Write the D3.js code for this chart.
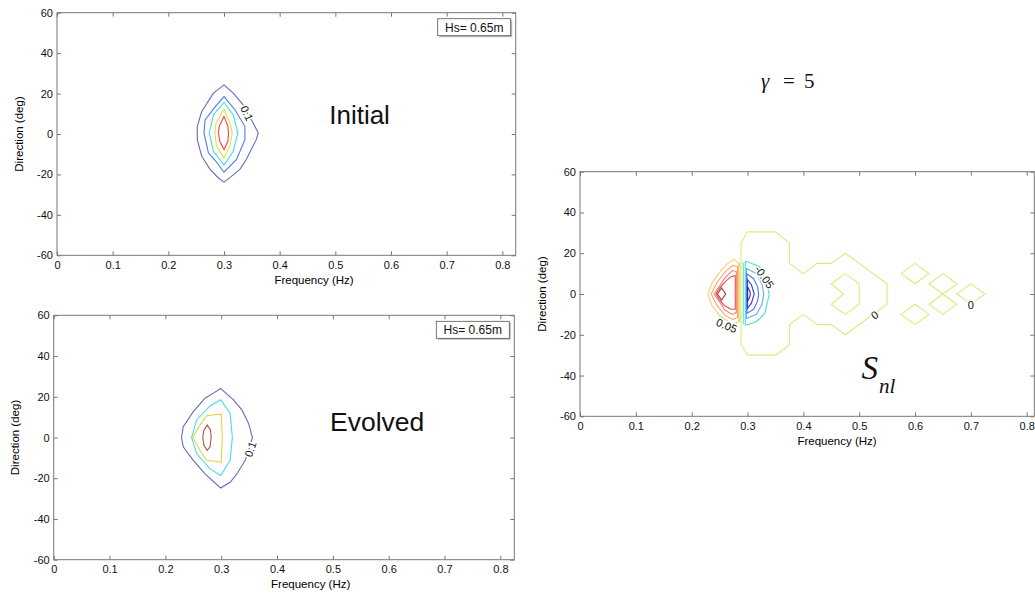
<!DOCTYPE html>
<html>
<head>
<meta charset="utf-8">
<script src="https://cdn.jsdelivr.net/npm/d3@7"></script>
<style>
body { margin: 0; background: #fff; }
text { font-family: "Liberation Sans", Arimo, Arial, Helvetica, sans-serif; }
.serif, .serif tspan { font-family: "Liberation Serif", "DejaVu Serif", "Times New Roman", Times, serif; }
</style>
</head>
<body>
<script>
// tick values / labels shared by the three panels
var xTicks = [0, 0.1, 0.2, 0.3, 0.4, 0.5, 0.6, 0.7, 0.8];
var xTickLabels = ["0", "0.1", "0.2", "0.3", "0.4", "0.5", "0.6", "0.7", "0.8"];
var yTicks = [-60, -40, -20, 0, 20, 40, 60];
var yTickLabels = ["-60", "-40", "-20", "0", "20", "40", "60"];

// contour lines, [frequency Hz, direction deg]
// initial spectrum (outer -> inner)
var init1 = [[0.3,24.3],[0.3166,20.2],[0.3345,14.4],[0.3435,9.5],[0.3525,5.4],[0.3615,0.5],[0.358,-2.8],[0.349,-7.7],[0.34,-12.6],[0.3285,-17.5],[0.3106,-21.6],[0.3,-23.8],[0.289,-21.5],[0.275,-17.5],[0.26,-11],[0.252,-2.8],[0.252,3.8],[0.26,11.1],[0.281,20.2]];
var init2 = [[0.3,18.5],[0.3196,12],[0.3375,3.8],[0.3375,-2.8],[0.3226,-12.6],[0.3,-18.9],[0.284,-13],[0.272,-9.3],[0.264,0.5],[0.266,7],[0.283,13]];
var init3 = [[0.3,15.6],[0.3166,9.5],[0.325,0.5],[0.3166,-8.5],[0.3,-15.4],[0.281,-8.5],[0.2735,0.5],[0.281,9.5]];
var init4 = [[0.3,12.3],[0.3106,5.4],[0.3148,0.5],[0.3106,-6],[0.3,-11.8],[0.2866,-6],[0.2837,0.5],[0.2855,5.4]];
var init5 = [[0.3,8.7],[0.307,3.8],[0.308,0.5],[0.307,-3.6],[0.3,-7.7],[0.2925,-3.6],[0.29,0.5],[0.2914,3.8]];

// evolved spectrum
var evo1 = [[0.299,24.1],[0.322,18.5],[0.337,13.6],[0.349,6.9],[0.356,0],[0.351,-4.6],[0.343,-11.2],[0.328,-17.9],[0.316,-22],[0.299,-24.8],[0.271,-17.9],[0.25,-11.2],[0.232,-4.6],[0.229,0],[0.232,5.3],[0.25,12.7],[0.271,19.3],[0.286,21.8]];
var evo2 = [[0.299,18.5],[0.316,11.9],[0.32,0],[0.316,-11.2],[0.299,-18.7],[0.28,-15.4],[0.256,-7.9],[0.247,0],[0.256,8.6],[0.28,15.5]];
var evo3 = [[0.274,10.7],[0.3,11.6],[0.302,0],[0.3,-12.1],[0.274,-11.2],[0.262,-6.3],[0.249,0],[0.262,6.1]];
var evo4 = [[0.275,6.1],[0.281,3.6],[0.282,0],[0.28,-4.6],[0.275,-6.3],[0.269,-3.8],[0.267,0],[0.269,3.6]];

// Snl : zero level
var snlZero1 = [[0.2885,25],[0.3,30.5],[0.35,30.5],[0.375,25],[0.375,15],[0.4,10],[0.425,15],[0.45,15],[0.475,20],[0.55,5],[0.55,-5],[0.475,-20],[0.45,-15],[0.425,-15],[0.4,-10],[0.375,-15],[0.375,-25],[0.35,-30],[0.3,-30],[0.2885,-24.5]];
var snlZero2 = [[0.45,5],[0.475,10],[0.5,5],[0.5,-5],[0.475,-10],[0.45,-5],[0.472,0]];
var snlZero3 = [[0.575,10],[0.6,15],[0.625,10],[0.6,5]];
var snlZero4 = [[0.575,-10],[0.6,-5],[0.625,-10],[0.6,-15]];
var snlZero5 = [[0.625,5],[0.65,10],[0.675,5],[0.65,0]];
var snlZero6 = [[0.625,-5],[0.65,0],[0.675,-5],[0.65,-10]];
var snlZero7 = [[0.675,0],[0.7,5],[0.725,0],[0.7,-5]];
// Snl : positive lobe
var snlPos1 = [[0.284,15],[0.276,17],[0.262,14.5],[0.248,10],[0.236,5],[0.229,0],[0.236,-5.5],[0.25,-10.5],[0.265,-13.5],[0.278,-15],[0.284,-13]];
var snlPos2 = [[0.282,13.5],[0.274,14],[0.26,11],[0.245,5.5],[0.235,0],[0.245,-5.5],[0.26,-10.5],[0.274,-12.5],[0.282,-11.5]];
var snlPos3 = [[0.28,11],[0.273,11.5],[0.26,8],[0.249,3.5],[0.24,0],[0.249,-3.5],[0.26,-8],[0.273,-10],[0.28,-9]];
var snlPos4 = [[0.278,9],[0.27,8.5],[0.258,5.5],[0.249,2.5],[0.2435,0],[0.249,-2.5],[0.258,-5.5],[0.27,-7.5],[0.278,-7.5]];
var snlPos5 = [[0.246,0],[0.2535,3],[0.261,0],[0.2535,-3]];
var snlPos6 = [[0.2862,15.5],[0.2862,-14]];
// Snl : negative lobe
var snlNeg0 = [[0.2925,15.5],[0.2925,-15]];
var snlNeg1 = [[0.296,15.9],[0.2985,15.9],[0.322,13.4],[0.331,7.7],[0.339,0],[0.331,-9.5],[0.316,-13.6],[0.2985,-15.2],[0.296,-15.2]];
var snlNeg2 = [[0.298,12.5],[0.316,10],[0.326,5],[0.329,0],[0.326,-5],[0.316,-10],[0.298,-12]];
var snlNeg3 = [[0.299,10],[0.311,7.5],[0.318,3.5],[0.32,0],[0.318,-3.5],[0.311,-7.5],[0.299,-9.5]];
var snlNeg4 = [[0.3,7],[0.307,4.5],[0.312,0],[0.307,-4.5],[0.3,-7]];
var snlNeg5 = [[0.3,3.5],[0.304,1.5],[0.305,0],[0.304,-1.5],[0.3,-3.5]];

var svg = d3.select("body")
    .append("svg")
    .attr("width", 1035)
    .attr("height", 593);

// slight softening so the thin lines look like the scanned original
svg.append("defs").append("filter").attr("id", "soft")
    .append("feGaussianBlur").attr("stdDeviation", 0.35);

function panel(left, top, w, h, xMax) {
    var g = svg.append("g").attr("transform", "translate(" + left + "," + top + ")");
    var x = d3.scaleLinear().domain([0, xMax]).range([0, w]),
        y = d3.scaleLinear().domain([-60, 60]).range([h, 0]);

    var ax = [
        g.append("g").attr("transform", "translate(0," + h + ")")
            .call(d3.axisBottom(x).tickValues(xTicks).tickSize(-4).tickPadding(6)
                .tickFormat(function (d, i) { return xTickLabels[i]; })),
        g.append("g")
            .call(d3.axisLeft(y).tickValues(yTicks).tickSize(-4).tickPadding(4)
                .tickFormat(function (d, i) { return yTickLabels[i]; })),
        g.append("g")
            .call(d3.axisTop(x).tickValues(xTicks).tickSize(-4).tickFormat("")),
        g.append("g").attr("transform", "translate(" + w + ",0)")
            .call(d3.axisRight(y).tickValues(yTicks).tickSize(-4).tickFormat(""))
    ];
    ax.forEach(function (a) {
        a.attr("font-family", null);
        a.select(".domain").remove();
        a.selectAll("line").attr("stroke", "#777");
        a.selectAll("text").attr("fill", "#111").style("font-size", "11px");
    });

    g.append("rect")
        .attr("width", w).attr("height", h)
        .attr("fill", "none").attr("stroke", "#777").attr("stroke-width", 1);

    g.append("text")
        .attr("x", 257).attr("y", h + 28.5)
        .attr("text-anchor", "middle")
        .style("font-size", "11.5px")
        .text("Frequency (Hz)");

    g.append("text")
        .attr("transform", "translate(-34.5," + (h / 2) + ") rotate(-90)")
        .attr("text-anchor", "middle")
        .style("font-size", "11.5px")
        .text("Direction (deg)");

    var lines = g.append("g").attr("filter", "url(#soft)");
    return { g: g, lines: lines, x: x, y: y, w: w, h: h };
}

function contour(p, pts, color, open) {
    var line = d3.line()
        .x(function (d) { return p.x(d[0]); })
        .y(function (d) { return p.y(d[1]); })
        .curve(open ? d3.curveLinear : d3.curveLinearClosed);
    p.lines.append("path")
        .datum(pts)
        .attr("fill", "none")
        .attr("stroke", color)
        .attr("stroke-width", 1.1)
        .attr("d", line);
}

function clabel(p, txt, f, d, angle) {
    p.g.append("text")
        .attr("transform", "translate(" + p.x(f) + "," + p.y(d) + ") rotate(" + angle + ")")
        .attr("text-anchor", "middle")
        .attr("dy", "0.35em")
        .attr("fill", "#111")
        .attr("stroke", "#fff").attr("stroke-width", 3)
        .attr("paint-order", "stroke")
        .style("font-size", "11px")
        .text(txt);
}

function hsBox(p) {
    var bx = p.w - 78, by = 6;
    p.g.append("rect").attr("x", bx + 1.5).attr("y", by + 1.5).attr("width", 73).attr("height", 17)
        .attr("fill", "#bbb");
    p.g.append("rect").attr("x", bx).attr("y", by).attr("width", 73).attr("height", 17)
        .attr("fill", "#fff").attr("stroke", "#555").attr("stroke-width", 0.8);
    p.g.append("text").attr("x", bx + 36.5).attr("y", by + 13)
        .attr("text-anchor", "middle").style("font-size", "12px").attr("fill", "#111")
        .text("Hs= 0.65m");
}

// ---------- panel 1 : initial ----------
var p1 = panel(57, 12.7, 458.7, 242.6, 0.824);
contour(p1, init1, "#6a6ab8");
contour(p1, init2, "#5078ee");
contour(p1, init3, "#48dce6");
contour(p1, init4, "#ecdc3c");
contour(p1, init5, "#f04444");
clabel(p1, "0.1", 0.341, 10.3, 65);
hsBox(p1);
p1.g.append("text")
    .attr("x", p1.x(0.489)).attr("y", p1.y(5.1))
    .style("font-size", "26px").attr("fill", "#111")
    .text("Initial");

// ---------- panel 2 : evolved ----------
var p2 = panel(53.7, 315.3, 460.6, 244.4, 0.825);
contour(p2, evo1, "#6a6ab8");
contour(p2, evo2, "#48dcec");
contour(p2, evo3, "#f2cc3c");
contour(p2, evo4, "#b05050");
clabel(p2, "0.1", 0.3525, -5.8, -72);
hsBox(p2);
p2.g.append("text")
    .attr("x", p2.x(0.495)).attr("y", p2.y(3.3))
    .style("font-size", "26.5px").attr("fill", "#111")
    .text("Evolved");

// ---------- panel 3 : Snl ----------
var p3 = panel(580, 171.7, 454.3, 244.6, 0.8136);
[snlZero1, snlZero2, snlZero3, snlZero4, snlZero5, snlZero6, snlZero7].forEach(function (c) {
    contour(p3, c, "#d2f07e");
});
contour(p3, snlPos1, "#f8cc74");
contour(p3, snlPos2, "#f6a472");
contour(p3, snlPos3, "#f28080");
contour(p3, snlPos4, "#ea5050");
contour(p3, snlPos5, "#a83434");
contour(p3, snlPos6, "#ecd850", true);
contour(p3, snlNeg0, "#70e4b8", true);
contour(p3, snlNeg1, "#48dce4");
contour(p3, snlNeg2, "#64aaf6");
contour(p3, snlNeg3, "#5274f0");
contour(p3, snlNeg4, "#3a3ae6");
contour(p3, snlNeg5, "#2a2ab0");
clabel(p3, "0.05", 0.2627, -15.6, 22);
clabel(p3, "-0.05", 0.33, 8.3, 55);
clabel(p3, "0", 0.528, -10.4, -36);
clabel(p3, "0", 0.7, -5.6, 0);

var snl = p3.g.append("text").attr("class", "serif")
    .attr("x", p3.x(0.504)).attr("y", p3.y(-41.5))
    .style("font-style", "italic").attr("fill", "#111");
snl.append("tspan").style("font-size", "33px").text("S");
snl.append("tspan").attr("dy", 14).attr("dx", 1).style("font-size", "21px").text("nl");

// gamma annotation above the Snl panel
var gam = svg.append("text").attr("class", "serif")
    .attr("y", 88.3)
    .style("font-size", "21px").attr("fill", "#111");
gam.append("tspan").attr("x", 761).style("font-style", "italic").text("\u03b3");
gam.append("tspan").attr("x", 783).text("=");
gam.append("tspan").attr("x", 804).text("5");
</script>
</body>
</html>
